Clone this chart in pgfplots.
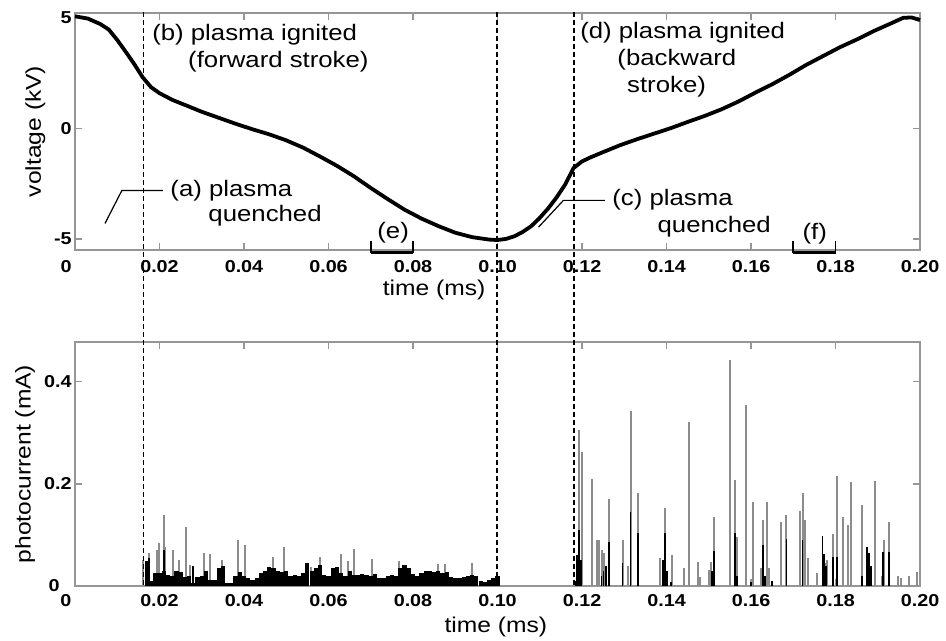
\documentclass[border=0pt]{standalone}
\usepackage{fontspec}
\setmainfont{Liberation Sans}[FakeStretch=1.15]
\usepackage{pgfplots}
\pgfplotsset{compat=1.18}
\definecolor{frame}{RGB}{150,150,150}
\definecolor{spk}{RGB}{140,140,140}
\tikzset{annot/.style={font=\fontsize{11.2}{13}\selectfont, anchor=west, inner sep=0pt}}
\begin{document}
\begin{tikzpicture}
\pgfplotsset{
  common/.style={
    scale only axis, width=422.5pt, xmin=0, xmax=0.2,
    axis line style={frame, line width=0.6pt},
    every tick/.style={frame, line width=0.6pt},
    major tick length=3.5pt,
    tick label style={font=\fontsize{8.6}{10}\selectfont\bfseries, inner sep=1.5pt},
    label style={font=\fontsize{10.7}{12}\selectfont},
    /pgf/number format/assume math mode=true,
    xtick={0.02,0.04,0.06,0.08,0.10,0.12,0.14,0.16,0.18,0.20},
    xticklabels={0.02,0.04,0.06,0.08,0.10,0.12,0.14,0.16,0.18,0.20},
    extra x ticks={0}, extra x tick labels={0},
    extra x tick style={xticklabel style={xshift=-4.5pt}},
    clip=false,
  },
}
% ---------------- top: voltage ----------------
\begin{axis}[common, at={(0,168pt)}, anchor=south west, height=118.5pt,
  ymin=-5.5, ymax=5.2, ytick={-5,0,5}, yticklabels={-5,0,5},
  xticklabel style={yshift=-3.5pt},
  xlabel={time (ms)}, xlabel style={at={(axis description cs:0.425,-0.169)}, anchor=center},
  ylabel={voltage (kV)}, ylabel style={at={(axis description cs:-0.047,0.5)}, anchor=center}]
\addplot[black, line width=1.9pt, line join=round] coordinates {
(0.000,5.05) (0.003,4.95) (0.006,4.70) (0.008,4.45) (0.010,3.98) (0.012,3.45)
(0.014,2.90) (0.016,2.30) (0.018,1.85) (0.020,1.58) (0.023,1.28) (0.026,1.05)
(0.030,0.74) (0.034,0.47) (0.038,0.20) (0.042,-0.05) (0.046,-0.28) (0.050,-0.55)
(0.054,-0.88) (0.058,-1.28) (0.062,-1.70) (0.066,-2.17) (0.070,-2.70) (0.074,-3.20)
(0.078,-3.68) (0.082,-4.08) (0.086,-4.42) (0.090,-4.72) (0.094,-4.92) (0.098,-5.03)
(0.100,-5.05) (0.102,-5.00) (0.104,-4.88) (0.106,-4.68) (0.108,-4.42) (0.110,-4.05)
(0.112,-3.62) (0.114,-3.12) (0.116,-2.55) (0.118,-1.80) (0.120,-1.50) (0.122,-1.32)
(0.125,-1.08) (0.129,-0.77) (0.133,-0.50) (0.137,-0.25) (0.141,0.00) (0.145,0.28)
(0.149,0.55) (0.153,0.85) (0.157,1.20) (0.161,1.60) (0.165,1.98) (0.169,2.40)
(0.173,2.85) (0.177,3.25) (0.181,3.65) (0.185,4.00) (0.189,4.38) (0.193,4.72)
(0.196,4.98) (0.198,5.00) (0.200,4.88)
};
\coordinate (d1t) at (axis cs:0.0162,5.25);
\coordinate (d2t) at (axis cs:0.0999,5.25);
\coordinate (d3t) at (axis cs:0.1181,5.25);
\node[annot] at (axis cs:0.0182,4.23) {(b) plasma ignited};
\node[annot] at (axis cs:0.0267,2.99) {(forward stroke)};
\node[annot] at (axis cs:0.0225,-2.81) {(a) plasma};
\node[annot] at (axis cs:0.0315,-3.94) {quenched};
\draw[black, line width=0.6pt] (axis cs:0.0071,-4.30) -- (axis cs:0.0111,-2.81) -- (axis cs:0.0208,-2.81);
\node[annot] at (axis cs:0.1195,4.30) {(d) plasma ignited};
\node[annot] at (axis cs:0.1283,3.08) {(backward};
\node[annot] at (axis cs:0.1306,1.86) {stroke)};
\node[annot] at (axis cs:0.1271,-3.21) {(c) plasma};
\node[annot] at (axis cs:0.1378,-4.43) {quenched};
\draw[black, line width=0.6pt] (axis cs:0.1097,-4.47) -- (axis cs:0.1156,-3.26) -- (axis cs:0.1254,-3.26);
\node[font=\fontsize{11.2}{13}\selectfont, inner sep=0pt] at (axis cs:0.0753,-4.71) {(e)};
\node[font=\fontsize{11.2}{13}\selectfont, inner sep=0pt] at (axis cs:0.1751,-4.75) {(f)};
\draw[black, line width=1.5pt] (axis cs:0.0700,-5.62) -- (axis cs:0.0800,-5.62);
\draw[black, line width=0.8pt] (axis cs:0.0700,-5.62) -- (axis cs:0.0700,-5.10);
\draw[black, line width=0.8pt] (axis cs:0.0800,-5.62) -- (axis cs:0.0800,-5.10);
\draw[black, line width=1.5pt] (axis cs:0.1700,-5.62) -- (axis cs:0.1800,-5.62);
\draw[black, line width=0.8pt] (axis cs:0.1700,-5.62) -- (axis cs:0.1700,-5.10);
\draw[black, line width=0.8pt] (axis cs:0.1800,-5.62) -- (axis cs:0.1800,-5.10);
\end{axis}
% ---------------- bottom: photocurrent ----------------
\begin{axis}[common, at={(0,0)}, anchor=south west, height=122pt,
  ymin=0, ymax=0.478, ytick={0.2,0.4}, yticklabels={0.2,0.4},
  extra y ticks={0}, extra y tick labels={0},
  extra y tick style={yticklabel style={xshift=-6pt}},
  xticklabel style={yshift=-2.5pt},
  xlabel={time (ms)}, xlabel style={at={(axis description cs:0.498,-0.168)}, anchor=center},
  ylabel={photocurrent (mA)}, ylabel style={at={(axis description cs:-0.059,0.5)}, anchor=center}]
% gray spikes
\addplot[ycomb, draw=spk, line width=1pt] coordinates {
(0.0162,0.051) (0.0175,0.064) (0.0195,0.071) (0.0200,0.084) (0.0211,0.139) (0.0214,0.077)
(0.0231,0.071) (0.0245,0.050) (0.0262,0.116) (0.0272,0.041) (0.0305,0.064) (0.0320,0.063)
(0.0347,0.050) (0.0385,0.090) (0.0402,0.080) (0.0469,0.056) (0.0495,0.076) (0.0559,0.038)
(0.0581,0.057) (0.0629,0.063) (0.0645,0.048) (0.0661,0.073) (0.0702,0.053) (0.0767,0.048)
(0.0860,0.044) (0.0875,0.044) (0.0939,0.046)
(0.1193,0.306) (0.1199,0.262) (0.1223,0.209) (0.1236,0.090) (0.1241,0.090) (0.1247,0.070)
(0.1252,0.065) (0.1264,0.170) (0.1296,0.090) (0.1308,0.040) (0.1315,0.342) (0.1333,0.182)
(0.1385,0.055) (0.1396,0.152) (0.1412,0.061) (0.1441,0.036) (0.1454,0.322) (0.1474,0.047)
(0.1480,0.017) (0.1501,0.031) (0.1506,0.047) (0.1513,0.136) (0.1550,0.442) (0.1562,0.207)
(0.1567,0.096) (0.1587,0.355) (0.1604,0.165) (0.1623,0.035) (0.1628,0.129) (0.1639,0.165)
(0.1643,0.035) (0.1672,0.126) (0.1684,0.139) (0.1716,0.146) (0.1722,0.183) (0.1728,0.129)
(0.1734,0.055) (0.1757,0.025) (0.1775,0.045) (0.1781,0.050) (0.1795,0.102) (0.1803,0.216)
(0.1817,0.136) (0.1830,0.120) (0.1836,0.203) (0.1863,0.159) (0.1893,0.206) (0.1909,0.020)
(0.1915,0.090) (0.1927,0.125) (0.1949,0.020) (0.1956,0.015) (0.1973,0.020) (0.1992,0.028)
};
% black dense noise
\addplot[ycomb, draw=black, line width=2.1pt] coordinates {
(0.017,0.048) (0.018,0.010) (0.019,0.025) (0.020,0.025) (0.021,0.030) (0.022,0.022)
(0.023,0.020) (0.024,0.030) (0.025,0.028) (0.026,0.018) (0.027,0.020) (0.028,0.005)
(0.029,0.018) (0.030,0.020) (0.031,0.030) (0.032,0.012) (0.033,0.012) (0.034,0.035)
(0.035,0.040) (0.036,0.005) (0.037,0.005) (0.038,0.020) (0.039,0.028) (0.040,0.020)
(0.041,0.015) (0.042,0.012) (0.043,0.015) (0.044,0.025) (0.045,0.030) (0.046,0.038)
(0.047,0.035) (0.048,0.030) (0.049,0.028) (0.050,0.030) (0.051,0.020) (0.052,0.022)
(0.053,0.020) (0.054,0.025) (0.055,0.045) (0.056,0.030) (0.057,0.035) (0.058,0.041)
(0.059,0.022) (0.060,0.020) (0.061,0.036) (0.062,0.038) (0.063,0.025) (0.064,0.020)
(0.065,0.030) (0.066,0.022) (0.067,0.022) (0.068,0.024) (0.069,0.022) (0.070,0.020)
(0.071,0.024) (0.072,0.016) (0.073,0.016) (0.074,0.020) (0.075,0.022) (0.076,0.020)
(0.077,0.035) (0.078,0.042) (0.079,0.035) (0.080,0.024) (0.081,0.020) (0.082,0.025)
(0.083,0.030) (0.084,0.030) (0.085,0.028) (0.086,0.030) (0.087,0.025) (0.088,0.028)
(0.089,0.018) (0.090,0.016) (0.091,0.015) (0.092,0.018) (0.093,0.020) (0.094,0.022)
(0.095,0.020) (0.096,0.010) (0.097,0.008) (0.098,0.012) (0.099,0.015) (0.100,0.020)
};
% black spikes
\addplot[ycomb, draw=black, line width=0.9pt] coordinates {
(0.0176,0.055) (0.0211,0.070) (0.0279,0.040)
(0.1188,0.060) (0.1193,0.110) (0.1198,0.050) (0.1246,0.020) (0.1251,0.030) (0.1256,0.040)
(0.1264,0.087) (0.1296,0.046) (0.1315,0.144) (0.1333,0.103) (0.1392,0.050) (0.1396,0.103)
(0.1401,0.030) (0.1508,0.030) (0.1513,0.068) (0.1562,0.103) (0.1567,0.020) (0.1628,0.081)
(0.1633,0.020) (0.1684,0.093) (0.1722,0.090) (0.1769,0.097) (0.1773,0.062) (0.1777,0.040)
(0.1795,0.057) (0.1803,0.057) (0.1863,0.020) (0.1874,0.076) (0.1879,0.065) (0.1884,0.040)
(0.1913,0.066) (0.1927,0.066) (0.1185,0.010) (0.1410,0.008) (0.1600,0.008) (0.1650,0.010)
};
\coordinate (d1b) at (axis cs:0.0162,0);
\coordinate (d2b) at (axis cs:0.0999,0);
\coordinate (d3b) at (axis cs:0.1181,0);
\end{axis}
\foreach \i in {1,2,3}{
  \draw[black, line width=0.7pt, dash pattern=on 2.5pt off 1.5pt] (d\i t) -- (d\i b);
}
\pgfresetboundingbox
\useasboundingbox (-37.5pt,-27.5pt) rectangle (435.5pt,293pt);
\end{tikzpicture}
\end{document}
